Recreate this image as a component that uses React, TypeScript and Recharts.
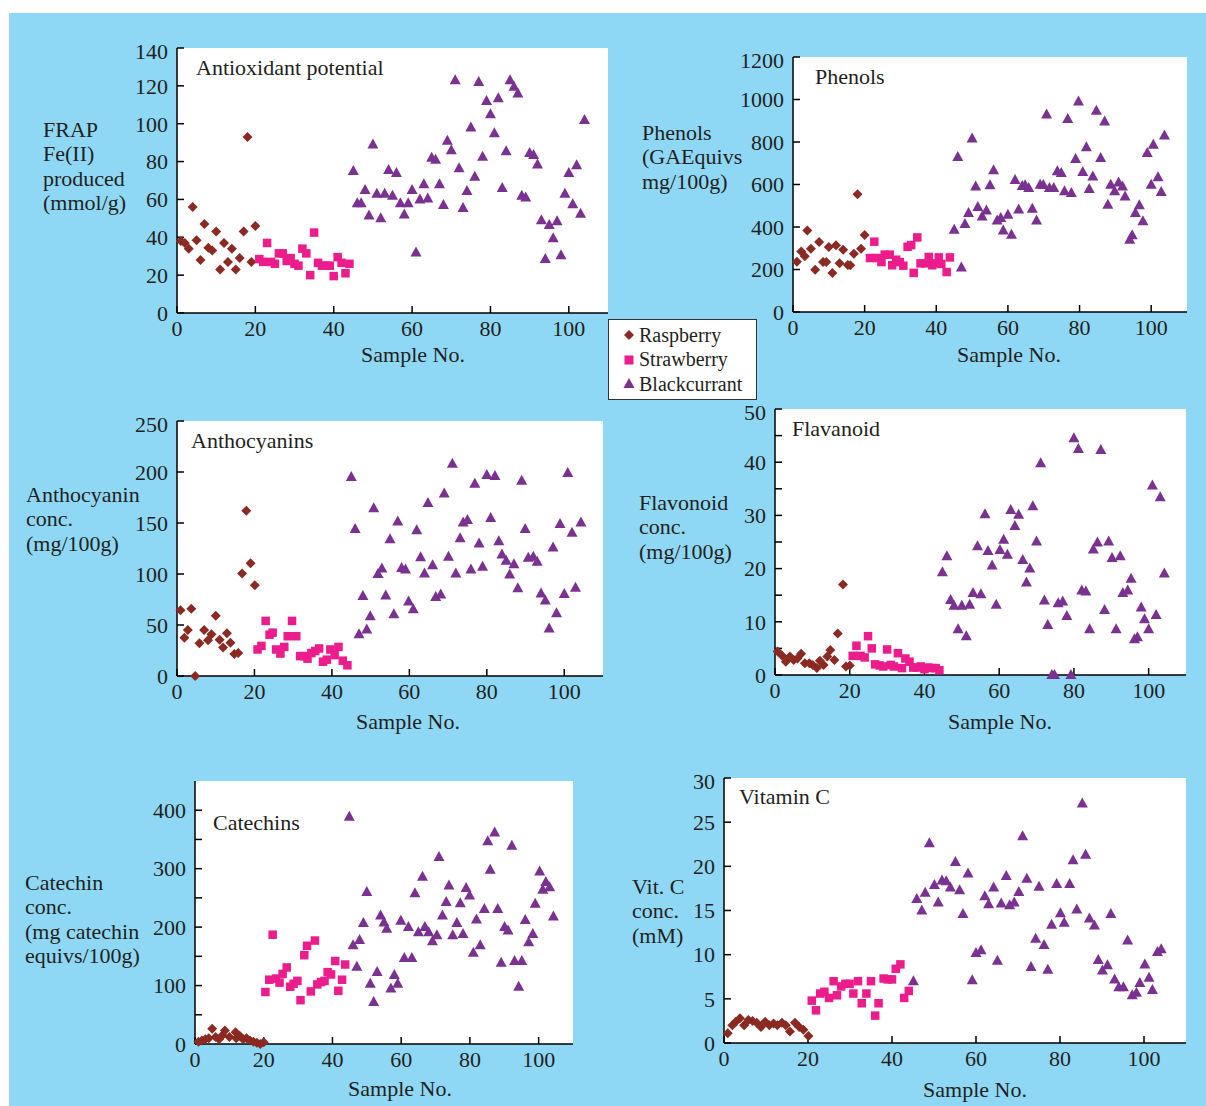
import React from 'react';
import { ScatterChart, Scatter, XAxis, YAxis, CartesianGrid } from 'recharts';

const BLUE = '#8ed8f6';
const INK = '#231f20';
const RASP = '#8b2a22';
const STRAW = '#ec1c8c';
const BLACK = '#7a3191';
const FONT = '"Liberation Serif", "DejaVu Serif", serif';

const SERIES = ['Raspberry', 'Strawberry', 'Blackcurrant'];
const X_TICKS = [0, 20, 40, 60, 80, 100];

// [sample no, value]
const frapRasp = [[1,38],[2,37],[3,34],[4,56],[5,38.5],[6,28],[7,47],[8,34.5],[9,33],[10,43],[11,23],[12,37],[13,27],[14,34],[15,23],[16,29],[17,43],[18,93],[19,27],[20,46]];
const frapStraw = [[21,28.5],[22,27],[23,37],[24,27],[25,26],[26,31.5],[27,31.5],[28,27.5],[29,29],[30,26],[31,25],[32,34],[33,31.5],[34,20],[35,42.5],[36,26.5],[37,25],[38,25],[39,25],[40,19.5],[41,29.5],[42,26.5],[43,21],[44,26]];
const frapBlack = [[45,75],[46,58],[47,58],[48,65],[49,51.5],[50,89],[51,63],[52,50],[53,63],[54,75.5],[55,62],[56,74],[57,58],[58,52],[59,58],[60,65],[61,32],[62,60],[63,68],[64,60.5],[65,82],[66,81],[67,68],[68,57],[69,91],[70,86],[71,123],[72,76.5],[73,55.5],[74,64.5],[75,98],[76,72],[77,122],[78,82.5],[79,112],[80,105],[81,95],[82,113.5],[83,66],[84,85.5],[85,123],[86,119.5],[87,116],[88,62],[89,61],[90,84.5],[91,83.5],[92,78.5],[93,49],[94,28.5],[95,46.5],[96,39.5],[97,48.5],[98,30.5],[99,63],[100,74],[101,57.5],[102,78],[103,52.5],[104,102]];

const phenRasp = [[1.1,237],[2.3,285],[3.3,262],[4,384],[5,298],[6.2,199],[7.3,329],[8.4,235],[9.3,235],[10,306],[11,184],[12,314],[13,229],[14,293],[15.3,221],[16,220],[17,274],[18,554],[19,298],[20,362]];
const phenStraw = [[21.5,254],[22.7,331],[23.4,254],[24.7,235],[25.6,270],[27,270],[27.7,220],[28.8,246],[29.8,235],[30.8,218],[32,307],[33,315],[33.7,184],[34.7,351],[35.6,229],[37,229],[37.9,259],[38.9,220],[39.7,229],[40.7,257],[41.4,226],[42.9,188],[43.8,257]];
const phenBlack = [[45,387],[46,729],[47,210],[48,414],[49,466],[50,816],[51,591],[51.6,494],[52.8,450],[54,478],[55,596],[56,667],[57,431],[58,442],[58.7,383],[60,458],[61,364],[62,621],[63,482],[64,593],[64.8,596],[65.8,584],[66.8,486],[68,431],[69,599],[69.9,598],[70.8,929],[71.6,584],[72.8,584],[73.8,662],[74.9,654],[75.8,568],[76.7,908],[77.7,560],[78.9,720],[79.7,991],[80.9,659],[81.9,775],[82.7,579],[83.7,638],[84.7,947],[85.9,725],[87,897],[87.9,505],[88.7,599],[89.8,568],[90.9,610],[92,591],[92.7,544],[94,340],[94.7,361],[95.6,466],[96.7,502],[97.7,427],[98.9,748],[100,599],[100.6,787],[101.9,634],[102.8,565],[103.7,831]];

const anthRasp = [[0.9,64.5],[1.9,37.5],[2.8,45],[3.7,66],[4.7,0],[5.8,32],[7,45],[8,35],[8.9,41],[10,59],[11,35.5],[11.9,28],[12.9,42],[13.8,32.5],[14.8,21.5],[15.8,22.5],[16.8,100.5],[17.9,162],[19,110.5],[20.1,89]];
const anthStraw = [[20.8,26],[21.8,29.5],[22.9,54],[23.9,40.5],[24.7,42.5],[25.6,26],[26.7,22],[27.7,28.5],[28.6,39],[29.7,54],[30.8,39],[31.8,19.5],[32.8,19.5],[33.7,17],[34.7,22.5],[35.7,24.5],[36.7,27],[37.7,14],[38.7,16],[39.6,26],[40.7,20.5],[41.7,28.5],[42.8,15],[44,10.5]];
const anthBlack = [[45,195],[46,144],[47,41],[48,78.5],[49,45.5],[49.9,58.5],[50.8,164.5],[51.9,100],[52.9,105.5],[53.9,79],[55,134],[56,60.5],[57,151.5],[58,106],[59,104.5],[59.8,73],[61,65.5],[61.9,143],[62.9,116.5],[63.9,100.5],[64.8,169.5],[66,108.5],[66.8,77.5],[68.1,80],[69,179],[70.1,117],[71.1,208],[72,100.5],[73.1,135],[73.9,150.5],[75,153],[75.9,104.5],[76.9,188.5],[78,130],[78.9,107],[80,197],[81,155],[82.1,196],[83.1,132],[83.9,119],[85,113],[85.9,99.5],[87,109.5],[88,86],[89,191.5],[89.9,144],[90.7,116],[92,117],[93,112],[94,81],[95.1,74],[96.1,46.5],[97.1,126],[98,61.5],[98.9,149],[100,80.5],[100.9,199],[102,140.5],[102.9,86.5],[104.3,150.5]];

const flavRasp = [[0.7,4.4],[1.9,3.6],[2.9,2.5],[4,3.5],[5,2.8],[6,3.1],[7,4],[8,2.2],[9.2,2.2],[10.1,1.9],[11.2,1.3],[12,2.7],[13,1.9],[14,3.5],[14.8,4.7],[15.9,2.8],[16.8,7.8],[18.2,17],[19,1.6],[20,1.8]];
const flavStraw = [[20.8,3.6],[21.8,5.5],[22.9,3.6],[24,3.3],[24.9,7.3],[25.9,5],[26.8,2],[28,1.8],[29,1.6],[30,4.8],[31,1.9],[31.8,1.6],[32.9,4.1],[34,1.3],[34.9,3.1],[36,2.5],[37,1.4],[38,1.4],[39,1.6],[40,1.1],[41,1.4],[42,1.3],[43,1.3],[44,0.9]];
const flavBlack = [[44.8,19.3],[46,22.3],[47,14.1],[47.9,13],[49,8.6],[50,13],[51.2,7.3],[52.1,13.2],[53,15.4],[54.2,24.2],[55.1,15.2],[56.2,30.2],[57,23.3],[58.1,20.6],[59.2,13.2],[60.2,23.5],[61.2,25.4],[62.2,22.6],[63.1,31],[64.2,28],[65.2,30.1],[66.3,21.6],[67.3,17.4],[68.2,20],[69,31.7],[70,25.1],[71.1,39.8],[72.1,14],[73,9.4],[74.1,0],[74.8,0],[75.8,13.5],[77,13.8],[78.1,11.1],[79.2,0],[80,44.5],[81.2,42.5],[82.1,15.9],[83.2,15.7],[84.2,8.6],[85.2,23.6],[86.3,24.9],[87.2,42.3],[88.2,12.2],[89.3,25.1],[90.2,22],[91.3,8.6],[92.4,22.3],[93.1,15.4],[94.4,15.9],[95.3,18.1],[96.2,6.7],[97,7.1],[98,12.7],[98.9,10.5],[100,8.6],[101,35.6],[102,11.3],[103.1,33.4],[104.2,19.1]];

const catRasp = [[1,4],[2,6],[3,8],[4,10],[5,26],[6,12],[7,8],[8,15],[8.7,23],[10,12],[11.8,20],[12,10],[13,14],[14,8],[15,10],[16,6],[17,4],[18,2],[19,0],[20,3]];
const catStraw = [[20.5,89],[21.6,110],[22.6,187],[23.6,112],[24.6,105],[25.5,120],[26.7,131],[27.7,98],[28.7,103],[29.8,108],[30.7,75],[31.8,152],[32.6,168],[33.7,90],[34.9,177],[35.6,102],[36.7,106],[37.7,108],[38.6,123],[39.6,119],[40.8,142],[41.7,91],[42.8,110],[43.7,136]];
const catBlack = [[44.9,389],[46,169],[47.1,132],[47.9,178],[49,207],[50,260],[51,103],[52,72],[53,123],[54,220],[55,208],[55.8,197],[57,95],[58,118],[59,103],[59.9,211],[60.9,147],[62.1,200],[63.1,147],[64,258],[65,191],[66.2,286],[66.9,200],[68,191],[69.1,176],[70.4,186],[71,320],[72,220],[73.1,243],[73.9,271],[75,186],[76.2,207],[77.2,241],[78,188],[78.9,267],[79.9,254],[81,156],[81.9,213],[83,169],[84.2,231],[85.2,347],[85.9,298],[87.2,362],[88.1,231],[89.1,139],[90.1,200],[91.1,194],[92.2,339],[93,142],[94.2,98],[95.1,142],[96.1,212],[97.1,174],[98.3,188],[99,240],[100.3,295],[101.2,264],[102.1,277],[103.2,268],[104.3,218]];

const vitRasp = [[0.9,1.1],[2,2],[2.8,2.4],[3.8,2.8],[4.8,2],[5.8,2.6],[6.8,2.5],[7.8,2.3],[8.8,1.8],[9.8,2.4],[10.8,2],[11.8,2.2],[12.7,2],[13.8,2.3],[14.7,2],[15.7,1.3],[16.9,2.3],[17.9,1.8],[18.9,1.5],[20.1,0.8]];
const vitStraw = [[20.9,4.8],[21.9,3.7],[22.9,5.6],[23.9,5.8],[25,5.1],[26.1,7],[26.9,5.4],[27.9,6.4],[28.9,6.7],[29.9,6.7],[30.8,5.6],[31.9,7],[32.8,4.5],[33.9,5.6],[35,7],[36,3.1],[36.8,4.5],[38,7.3],[39,7.2],[40,7.2],[40.9,8.4],[42,8.9],[42.9,5.1],[44,5.9]];
const vitBlack = [[45.1,7],[45.9,16.3],[47.1,15],[47.9,17],[48.9,22.6],[50.1,17.9],[51,15.9],[51.9,18.4],[52.9,18.3],[53.9,17.6],[55.1,20.5],[56.1,17.3],[56.9,14.6],[58.1,19.2],[59.1,7.1],[60,10.2],[61.2,10.5],[62.1,16.6],[63,15.7],[64.2,17.6],[65.1,9.3],[66,15.8],[67.2,18.9],[68,15.6],[69.1,15.9],[70.2,17.1],[71.1,23.4],[72.1,18.6],[73.1,8.6],[74.2,11.8],[75,17.7],[76.2,11.1],[77.1,8.3],[78,13.4],[79.2,18],[80.1,14.7],[81,13.6],[82.3,18],[83.1,20.7],[84,15.1],[85.3,27.1],[86.1,21.3],[87,14.1],[88.2,13.3],[89.1,9.4],[90.1,8.2],[91.3,8.8],[92.1,14.6],[93,7.2],[94,6.3],[95.1,6.3],[96.1,11.6],[97.2,5.4],[98.2,5.7],[99,6.8],[100.2,8.9],[101.2,7.4],[102,6],[103.2,10.3],[104.1,10.6]];

const pts = (a: number[][]) => a.map(([x, y]) => ({ x, y }));

const Diamond = (p: any) => (
  <polygon points={`${p.cx},${p.cy - 5} ${p.cx + 5},${p.cy} ${p.cx},${p.cy + 5} ${p.cx - 5},${p.cy}`} fill={RASP} />
);
const Square = (p: any) => <rect x={p.cx - 4.25} y={p.cy - 4.25} width={8.5} height={8.5} fill={STRAW} />;
const Triangle = (p: any) => (
  <polygon points={`${p.cx},${p.cy - 6} ${p.cx + 5.5},${p.cy + 4} ${p.cx - 5.5},${p.cy + 4}`} fill={BLACK} />
);

const tickStyle = { fontFamily: FONT, fontSize: 22, fill: INK };
const axisLine = { stroke: '#000', strokeWidth: 1.5 };

interface PanelProps {
  plot: number[]; // left, top, right, bottom of plotting area
  yMax: number;
  yTicks: number[];
  yFmt?: (v: number) => string;
  rasp: number[][];
  straw: number[][];
  black: number[][];
}

function Panel({ plot, yMax, yTicks, yFmt, rasp, straw, black }: PanelProps) {
  const [L, T, R, B] = plot;
  return (
    <div style={{ position: 'absolute', left: L - 70, top: T - 10 }}>
      <ScatterChart width={R - L + 80} height={B - T + 50} margin={{ top: 10, right: 10, left: 0, bottom: 0 }}>
        <CartesianGrid horizontal={false} vertical={false} fill="#ffffff" fillOpacity={1} />
        <XAxis
          type="number"
          dataKey="x"
          domain={[0, 110]}
          ticks={X_TICKS}
          height={40}
          axisLine={axisLine}
          tickLine={axisLine}
          tickSize={-7}
          tickMargin={14}
          tick={tickStyle}
        />
        <YAxis
          type="number"
          dataKey="y"
          domain={[0, yMax]}
          ticks={yTicks}
          width={70}
          axisLine={axisLine}
          tickLine={axisLine}
          tickSize={-7}
          tickMargin={16}
          tick={tickStyle}
          tickFormatter={yFmt}
        />
        <Scatter name={SERIES[0]} data={pts(rasp)} shape={Diamond} isAnimationActive={false} />
        <Scatter name={SERIES[1]} data={pts(straw)} shape={Square} isAnimationActive={false} />
        <Scatter name={SERIES[2]} data={pts(black)} shape={Triangle} isAnimationActive={false} />
      </ScatterChart>
    </div>
  );
}

const txt = (left: number, top: number, s: string, extra: React.CSSProperties = {}) => (
  <div
    key={`${left}-${top}-${s}`}
    style={{
      position: 'absolute',
      left,
      top,
      fontFamily: FONT,
      fontSize: 22,
      lineHeight: '20px',
      color: INK,
      whiteSpace: 'pre',
      ...extra,
    }}
  >
    {s}
  </div>
);

// multi-line label, one div per line; first is the centre y of line one
const lines = (left: number, first: number, rows: string[]) =>
  rows.map((r, i) => txt(left, first - 10 + i * 24.3, r));

const xLabel = (cx: number, cy: number) =>
  txt(cx - 60, cy - 9, 'Sample No.', { width: 120, textAlign: 'center' });

export default function App() {
  return (
    <div style={{ position: 'relative', width: 1206, height: 1106, background: '#fff', overflow: 'hidden' }}>
      <style>{'body{margin:0}'}</style>
      <div style={{ position: 'absolute', left: 9, top: 13, width: 1197, height: 1093, background: BLUE }} />

      <Panel plot={[177, 48, 608, 313]} yMax={140} yTicks={[0, 20, 40, 60, 80, 100, 120, 140]} rasp={frapRasp} straw={frapStraw} black={frapBlack} />
      <Panel plot={[793, 57, 1187, 312]} yMax={1200} yTicks={[0, 200, 400, 600, 800, 1000, 1200]} rasp={phenRasp} straw={phenStraw} black={phenBlack} />
      <Panel plot={[177, 421, 603, 676]} yMax={250} yTicks={[0, 50, 100, 150, 200, 250]} rasp={anthRasp} straw={anthStraw} black={anthBlack} />
      <Panel
        plot={[775, 409, 1186, 675]}
        yMax={50}
        yTicks={[0, 5, 10, 15, 20, 25, 30, 35, 40, 45, 50]}
        yFmt={(v) => (v % 10 === 0 ? String(v) : '')}
        rasp={flavRasp}
        straw={flavStraw}
        black={flavBlack}
      />
      <Panel
        plot={[195, 781, 573, 1044]}
        yMax={450}
        yTicks={[0, 50, 100, 150, 200, 250, 300, 350, 400]}
        yFmt={(v) => (v % 100 === 0 ? String(v) : '')}
        rasp={catRasp}
        straw={catStraw}
        black={catBlack}
      />
      <Panel plot={[724, 778, 1186, 1043]} yMax={30} yTicks={[0, 5, 10, 15, 20, 25, 30]} rasp={vitRasp} straw={vitStraw} black={vitBlack} />

      {/* panel titles */}
      {txt(196, 58, 'Antioxidant potential')}
      {txt(815, 67, 'Phenols')}
      {txt(191, 431, 'Anthocyanins')}
      {txt(792, 419, 'Flavanoid')}
      {txt(213, 813, 'Catechins')}
      {txt(739, 787, 'Vitamin C')}

      {/* y axis labels */}
      {lines(43, 130, ['FRAP', 'Fe(II)', 'produced', '(mmol/g)'])}
      {lines(642, 133, ['Phenols', '(GAEquivs', 'mg/100g)'])}
      {lines(26, 495, ['Anthocyanin', 'conc.', '(mg/100g)'])}
      {lines(639, 503, ['Flavonoid', 'conc.', '(mg/100g)'])}
      {lines(25, 883, ['Catechin', 'conc.', '(mg catechin', 'equivs/100g)'])}
      {lines(632, 887, ['Vit. C', 'conc.', '(mM)'])}

      {xLabel(413, 354)}
      {xLabel(1009, 354)}
      {xLabel(408, 721)}
      {xLabel(1000, 721)}
      {xLabel(400, 1088)}
      {xLabel(975, 1089)}

      {/* shared legend */}
      <div
        style={{
          position: 'absolute',
          left: 608,
          top: 319,
          width: 147,
          height: 79,
          border: '1px solid #333',
          background: '#fff',
          fontFamily: FONT,
          fontSize: 20,
          color: INK,
        }}
      >
        {SERIES.map((s, i) => (
          <div key={s} style={{ position: 'absolute', left: 10, top: 3 + i * 24.5, height: 24, display: 'flex', alignItems: 'center' }}>
            <svg width={20} height={14}>
              {i === 0 && <polygon points="10,2 15,7 10,12 5,7" fill={RASP} />}
              {i === 1 && <rect x={5.5} y={2.5} width={9} height={9} fill={STRAW} />}
              {i === 2 && <polygon points="10,1 15.5,11 4.5,11" fill={BLACK} />}
            </svg>
            <span>{s}</span>
          </div>
        ))}
      </div>
    </div>
  );
}
